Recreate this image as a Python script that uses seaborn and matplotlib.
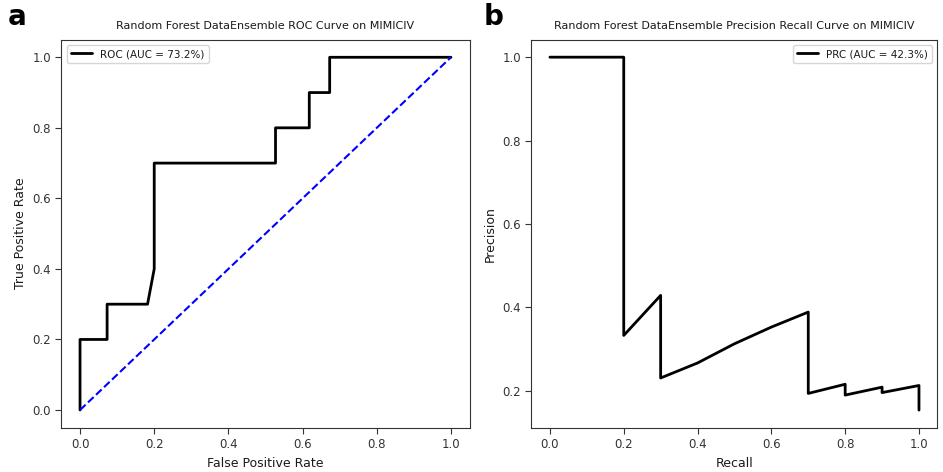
import matplotlib
matplotlib.use('Agg')
import matplotlib.pyplot as plt
import pandas as pd
import seaborn as sns

# ROC curve
fpr = [0.0, 0.0, 0.073, 0.073, 0.182, 0.2, 0.2, 0.527, 0.527, 0.618, 0.618, 0.673, 0.673, 1.0]
tpr = [0.0, 0.2, 0.2, 0.3, 0.3, 0.4, 0.7, 0.7, 0.8, 0.8, 0.9, 0.9, 1.0, 1.0]
roc_label = 'ROC (AUC = 73.2%)'

# precision-recall curve
recall = [0.0, 0.2, 0.2, 0.3, 0.3, 0.4, 0.5, 0.6, 0.7, 0.7, 0.8, 0.8, 0.9, 0.9, 1.0, 1.0]
precision = [1.0, 1.0, 0.333, 0.429, 0.231, 0.267, 0.313, 0.353, 0.389, 0.194,
             0.216, 0.190, 0.209, 0.196, 0.213, 0.154]
prc_label = 'PRC (AUC = 42.3%)'

chance = [0.0, 1.0]

sns.set_style('ticks', {'text.color': '0.1', 'axes.labelcolor': '0.1',
                        'xtick.color': '0.2', 'ytick.color': '0.2',
                        'axes.edgecolor': '0.2'})
plt.rcParams['font.family'] = ['DejaVu Sans']

fig = plt.figure(figsize=(9.43, 4.72), dpi=100)
ax1 = fig.add_axes([0.0652, 0.094, 0.4327, 0.822])
ax2 = fig.add_axes([0.5636, 0.094, 0.4305, 0.822])

roc = pd.DataFrame({'fpr': fpr, 'tpr': tpr})
sns.lineplot(data=roc, x='fpr', y='tpr', sort=False, estimator=None, color='black',
             lw=2, label=roc_label, ax=ax1)
sns.lineplot(x=chance, y=chance, sort=False, estimator=None, color='blue', lw=1.5,
             linestyle='--', ax=ax1)
ax1.set_xlim(-0.05, 1.05)
ax1.set_ylim(-0.05, 1.05)
ax1.set_xlabel('False Positive Rate', fontsize=9)
ax1.set_ylabel('True Positive Rate', fontsize=9)
ax1.set_title('Random Forest DataEnsemble ROC Curve on MIMICIV', fontsize=8, pad=8)
ax1.legend(loc='upper left', fontsize=7.5)

prc = pd.DataFrame({'recall': recall, 'precision': precision})
sns.lineplot(data=prc, x='recall', y='precision', sort=False, estimator=None,
             color='black', lw=2, label=prc_label, ax=ax2)
ax2.set_xlim(-0.05, 1.05)
ax2.set_ylim(0.112, 1.042)
ax2.set_yticks([0.2, 0.4, 0.6, 0.8, 1.0])
ax2.set_xlabel('Recall', fontsize=9)
ax2.set_ylabel('Precision', fontsize=9)
ax2.set_title('Random Forest DataEnsemble Precision Recall Curve on MIMICIV', fontsize=8, pad=8)
ax2.legend(loc='upper right', fontsize=7.5)

for ax in (ax1, ax2):
    ax.tick_params(labelsize=8.5, length=4)
    for s in ax.spines.values():
        s.set_visible(True)

fig.text(0.008, 0.965, 'a', fontsize=20, fontweight='bold', va='center', color='black')
fig.text(0.513, 0.965, 'b', fontsize=20, fontweight='bold', va='center', color='black')

fig.savefig('out.png', dpi=100)
